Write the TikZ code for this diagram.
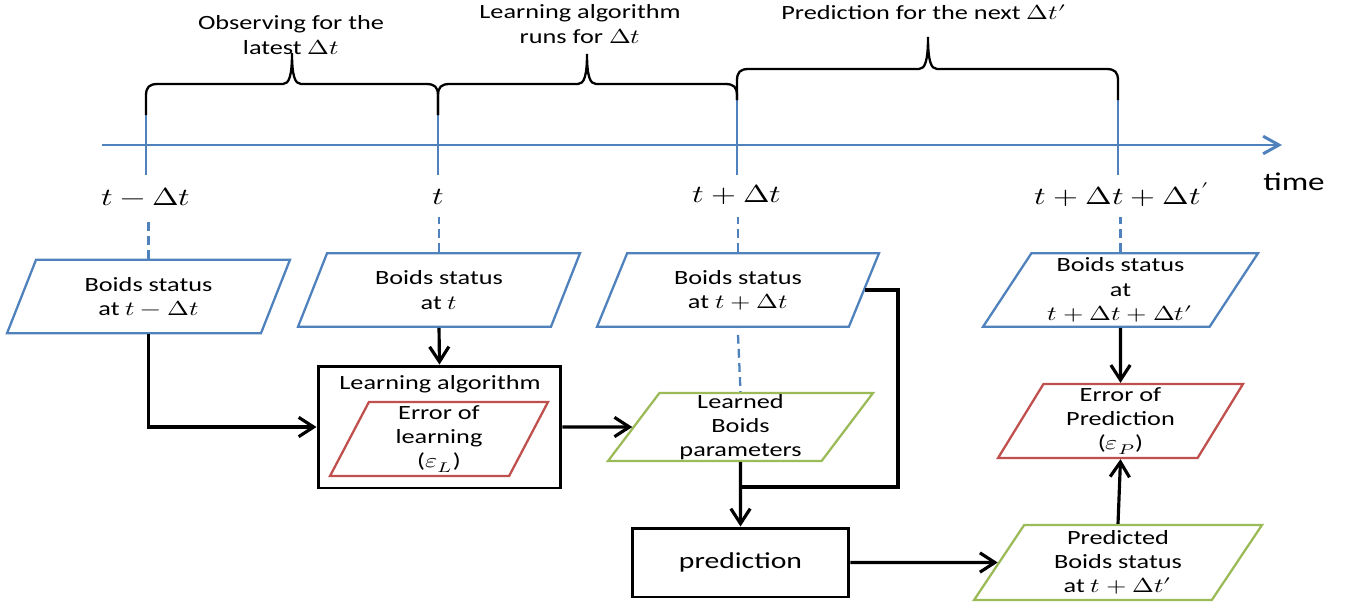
\documentclass[tikz,border=0pt]{standalone}
\usepackage{fontspec}
\usepackage{unicode-math}
\setmainfont{Carlito}[FakeStretch=1.3]
\setmathfont{Latin Modern Math}
\usepackage{tikz}
\usetikzlibrary{shapes.geometric,arrows.meta}
\definecolor{boxBlue}{HTML}{4F81BD}
\definecolor{boxRed}{HTML}{C0504D}
\definecolor{boxGreen}{HTML}{9BBB59}

\newcommand{\wm}[1]{\scalebox{1.3}[1]{$#1$}}
\newcommand{\timeBrace}[7]{%
  \draw[line width=1.3pt] (#1,#2) -- (#1,#6+12) .. controls (#1,#6+3) and (#1+3,#6) .. (#1+12,#6)
    -- (#3-9,#6) .. controls (#3-3,#6) and (#3,#6-8) .. (#3,#7)
    .. controls (#3,#6-8) and (#3+3,#6) .. (#3+9,#6)
    -- (#4-12,#6) .. controls (#4-3,#6) and (#4,#6+3) .. (#4,#6+12) -- (#4,#5);}

\begin{document}
\begin{tikzpicture}[
  x=0.02cm, y=-0.02cm,
  font=\fontsize{11.5}{13.8}\selectfont,
  statusPara/.style={trapezium, trapezium left angle=53, trapezium right angle=127, trapezium stretches body,
    draw=boxBlue, line width=1.3pt, align=center, inner sep=0pt, minimum height=1.47cm, minimum width=5.64cm},
  errPara/.style={statusPara, draw=boxRed},
  outPara/.style={statusPara, draw=boxGreen},
  procBox/.style={rectangle, draw=black, line width=1.7pt, align=center},
  flowLine/.style={line width=1.8pt},
  flowArrow/.style={flowLine, -{Straight Barb[length=8.5pt,width=11pt]}},
  tickLine/.style={boxBlue, line width=1.3pt},
  dashLine/.style={boxBlue, line width=1.3pt, dash pattern=on 5pt off 3pt},
  timeLabel/.style={font=\fontsize{14}{16}\selectfont}]

\useasboundingbox (0,0) rectangle (1345,609);

% time axis
\draw[tickLine, line width=1.7pt, -{Straight Barb[length=9pt,width=10pt]}] (102,145) -- (1282,145);
\foreach \tx/\ty in {146/115, 438/115, 737/100, 1118/100}
  \draw[tickLine] (\tx,\ty) -- (\tx,175);

\timeBrace{146}{115}{292}{438}{115}{84}{53}
\timeBrace{438}{115}{587}{737}{100}{84}{54}
\timeBrace{737}{100}{928}{1118}{100}{69}{37}

\node[align=center] (obsLabel) at (291,35) {Observing for the\\latest \wm{\Delta t}};
\node[align=center] (runLabel) at (580,24) {Learning algorithm\\runs for \wm{\Delta t}};
\node (nextLabel) at (924,12) {Prediction for the next \wm{\Delta t'}};

\node[timeLabel] (tl1) at (146,197) {\wm{t-\Delta t}};
\node[timeLabel] (tl2) at (438,197) {\wm{t}};
\node[timeLabel] (tl3) at (737,195) {\wm{t+\Delta t}};
\node[timeLabel] (tl4) at (1122,195) {\wm{t+\Delta t+\Delta t'}};
\node[font=\fontsize{14.5}{17}\selectfont] (timeWord) at (1294,182) {time};

% status boxes
\node[statusPara, minimum width=5.66cm] (p1) at (148.5,296.5) {Boids status\\at \wm{t-\Delta t}};
\node[statusPara] (p2) at (439,290) {Boids status\\at \wm{t}};
\node[statusPara] (p3) at (738,290) {Boids status\\at \wm{t+\Delta t}};
\node[statusPara, minimum width=5.5cm] (p4) at (1120.5,290) {Boids status\\at\\\wm{t+\Delta t+\Delta t'}};

\node[procBox, minimum width=4.86cm, minimum height=2.44cm] (learn) at (439.5,427) {};
\node (learnTitle) at (440,384) {Learning algorithm};
\node[errPara, trapezium left angle=60, trapezium right angle=120, minimum width=4.36cm, minimum height=1.48cm] (r1) at (439,439) {Error of\\learning\\(\wm{\varepsilon_L})};

\node[outPara, trapezium left angle=52, trapezium right angle=128, minimum width=5.3cm, minimum height=1.36cm] (g1) at (740.5,427) {Learned\\Boids\\parameters};
\node[procBox, minimum width=4.34cm, minimum height=1.38cm, font=\fontsize{13}{15}\selectfont] (pred) at (740.5,562.5) {prediction};

\node[errPara, trapezium left angle=56, trapezium right angle=124, minimum width=4.9cm, minimum height=1.48cm] (r2) at (1120.5,421) {Error of\\Prediction\\(\wm{\varepsilon_P})};
\node[outPara, trapezium left angle=52, trapezium right angle=128, minimum width=5.76cm, minimum height=1.5cm] (g2) at (1118,562.5) {Predicted\\Boids status\\at \wm{t+\Delta t'}};

% dashed links to the axis
\draw[dashLine] (p1.north) -- ++(0,-42);
\draw[dashLine] (p2.north) -- ++(0,-35);
\draw[dashLine] (p3.north) -- ++(0,-35);
\draw[dashLine] (p4.north) -- ++(0,-35);
\draw[dashLine] ([yshift=-4pt]p3.south) -- (g1.north);

% flow
\coordinate (loopCorner) at (898,487);
\coordinate (joinPt) at (g1.south |- loopCorner);
\draw[flowArrow] (p1.south) |- (learn.west);
\draw[flowArrow] (p2.south) -- (learn.north);
\draw[flowArrow] (learn.east) -- (g1);
\draw[flowLine] (p3.east) -| (loopCorner) -- (joinPt);
\draw[flowArrow] (g1.south) -- (pred.north);
\draw[flowArrow] (pred) -- (g2);
\draw[flowArrow] (p4.south) -- (r2.north);
\draw[flowArrow] (g2.north) -- (r2.south);
\end{tikzpicture}
\end{document}
